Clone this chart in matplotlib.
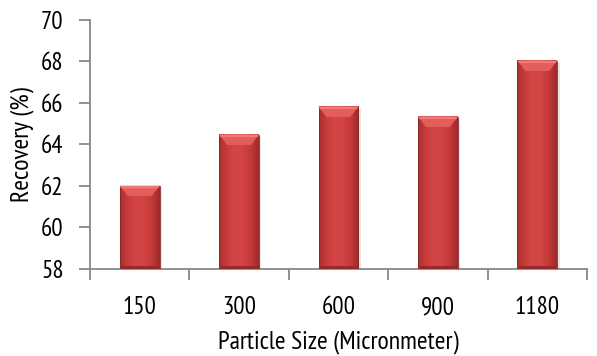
import numpy as np
import matplotlib
matplotlib.use("Agg")
import matplotlib.pyplot as plt
from matplotlib.patches import Polygon, Rectangle
from matplotlib.colors import LinearSegmentedColormap

sizes = ["150", "300", "600", "900", "1180"]
recovery = [62.0, 64.47, 65.82, 65.34, 68.04]

plt.rcParams["font.family"] = ["PT Sans Narrow", "DejaVu Sans"]

fig = plt.figure(figsize=(5.97, 3.56), dpi=100)
ax = fig.add_axes([90 / 597, 1 - 268.7 / 356, 497 / 597, 248.7 / 356])

ymin, ymax = 58, 70
width = 0.4
x = np.arange(len(sizes))

# horizontal shading across each bar: a bit darker at the edges
shade = LinearSegmentedColormap.from_list(
    "shade", ["#a83030", "#c93d3c", "#d44644", "#d24443", "#c43a39", "#9e2a2a"])
grad = np.linspace(0, 1, 64).reshape(1, -1)

for xi, v in zip(x, recovery):
    left, right = xi - width / 2, xi + width / 2
    # soft drop shadow
    ax.add_patch(Rectangle((left + 0.015, ymin), width + 0.01, v - ymin - 0.1,
                           color="#000000", alpha=0.10, zorder=1, linewidth=0))
    ax.imshow(grad, extent=(left, right, ymin, v), aspect="auto",
              cmap=shade, zorder=2, interpolation="bicubic")
    ax.add_patch(Rectangle((left, ymin), width, v - ymin, fill=False,
                           edgecolor="#8a2626", linewidth=0.6, zorder=3))
    # darker strip along the base
    ax.add_patch(Rectangle((left, ymin), width, 0.12, facecolor="#9a2a2a",
                           edgecolor="none", zorder=3))
    # bevel on the top of the bar
    bev_h = 0.5
    bev_w = 0.08
    ax.add_patch(Polygon([(left, v), (right, v), (right - bev_w, v - bev_h),
                          (left + bev_w, v - bev_h)], closed=True,
                         facecolor="#e35d5b", edgecolor="none", zorder=3))
    ax.add_patch(Polygon([(left, v), (right, v), (right - 0.015, v - 0.12),
                          (left + 0.015, v - 0.12)], closed=True,
                         facecolor="#f07a78", edgecolor="none", zorder=3))

ax.set_xlim(-0.5, len(sizes) - 0.5)
ax.set_ylim(ymin, ymax)
ax.set_yticks(np.arange(58, 71, 2))
ax.set_xticks(x)
ax.set_xticklabels(sizes)
ax.set_xticks(np.arange(-0.5, len(sizes)), minor=True)
ax.tick_params(axis="x", which="major", length=0, pad=20, labelsize=18)
ax.tick_params(axis="x", which="minor", length=8, width=1.3, color="#888888")
ax.tick_params(axis="y", length=8, width=1.3, color="#888888", labelsize=18, pad=11)

for side in ["top", "right"]:
    ax.spines[side].set_visible(False)
for side in ["left", "bottom"]:
    ax.spines[side].set_color("#888888")
    ax.spines[side].set_linewidth(1.3)

ax.set_xlabel("Particle Size (Micronmeter)", fontsize=18.5, labelpad=8)
ax.set_ylabel("Recovery (%)", fontsize=18.5, labelpad=5)

fig.savefig("out.png", dpi=100)
